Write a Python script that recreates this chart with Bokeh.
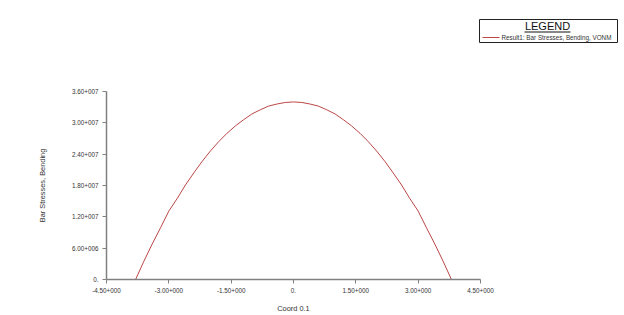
from bokeh.plotting import figure
from bokeh.models import ColumnDataSource, FixedTicker, Range1d
from bokeh.layouts import column
from bokeh.core.properties import value
from bokeh.embed import file_html
from bokeh.resources import INLINE

# Data
coord = [-3.8, -3.6, -3.4, -3.2, -3.0, -2.8, -2.6, -2.4, -2.2, -2.0, -1.8, -1.6, -1.4, -1.2,
         -1.0, -0.8, -0.6, -0.4, -0.2, 0.0, 0.2, 0.4, 0.6, 0.8, 1.0, 1.2, 1.4, 1.6, 1.8,
         2.0, 2.2, 2.4, 2.6, 2.8, 3.0, 3.2, 3.4, 3.6, 3.8]
stress = [0.0, 3.5e6, 6.8e6, 9.9e6, 1.31e7, 1.55e7, 1.81e7, 2.04e7, 2.26e7, 2.46e7, 2.64e7,
          2.80e7, 2.94e7, 3.06e7, 3.17e7, 3.25e7, 3.32e7, 3.36e7, 3.39e7, 3.40e7, 3.39e7,
          3.36e7, 3.32e7, 3.25e7, 3.17e7, 3.06e7, 2.94e7, 2.80e7, 2.64e7, 2.46e7, 2.26e7,
          2.04e7, 1.81e7, 1.55e7, 1.31e7, 9.9e6, 6.8e6, 3.5e6, 0.0]

x_ticks = [-4.5, -3.0, -1.5, 0.0, 1.5, 3.0, 4.5]
x_tick_labels = ["-4.50+000", "-3.00+000", "-1.50+000", "0.", "1.50+000", "3.00+000", "4.50+000"]
y_ticks = [0, 6e6, 1.2e7, 1.8e7, 2.4e7, 3.0e7, 3.6e7]
y_tick_labels = ["0.", "6.00+006", "1.20+007", "1.80+007", "2.40+007", "3.00+007", "3.60+007"]
series_name = "Result1: Bar Stresses, Bending, VONM"
legend_title = "LEGEND"

FONT = "Liberation Sans"
LINE_COLOR = "#bb4646"

# ---------- legend strip (top of page, pixel coordinates) ----------
lg = figure(width=624, height=48, output_backend="svg", toolbar_location=None,
            x_range=Range1d(0, 624), y_range=Range1d(48, 0),
            x_axis_location=None, y_axis_location=None,
            min_border=0, min_border_left=0, min_border_right=0,
            min_border_top=0, min_border_bottom=0)
lg.frame_align = False
lg.grid.visible = False
lg.outline_line_color = None
lg.background_fill_color = "white"
lg.border_fill_color = "white"

lg.quad(left=[479], right=[617], top=[19], bottom=[42],
        fill_color="white", line_color="#222222", line_width=1)
lg.text(x=[547], y=[25.5], text=[legend_title], text_align="center", text_baseline="middle",
        text_font=value(FONT), text_font_size="11px", text_color="#111111")
lg.segment(x0=[524], y0=[31.5], x1=[570], y1=[31.5], line_color="#111111", line_width=1)
lg.segment(x0=[482], y0=[37], x1=[499], y1=[37], line_color=LINE_COLOR, line_width=1)
lg.text(x=[501], y=[37], text=[series_name], text_align="left", text_baseline="middle",
        text_font=value(FONT), text_font_size="6.3px", text_color="#333333")

# ---------- main chart ----------
p = figure(width=624, height=267, output_backend="svg", toolbar_location=None,
           x_range=Range1d(-4.5, 4.5), y_range=Range1d(0, 3.6e7),
           min_border_left=106, min_border_right=144, min_border_top=43, min_border_bottom=34)
p.frame_align = False
p.outline_line_color = None
p.xgrid.visible = False
p.ygrid.visible = False
p.background_fill_color = "white"
p.border_fill_color = "white"

src = ColumnDataSource(dict(x=coord, y=stress))
p.line("x", "y", source=src, line_color=LINE_COLOR, line_width=1)

for ax, ticks, labels in ((p.xaxis[0], x_ticks, x_tick_labels), (p.yaxis[0], y_ticks, y_tick_labels)):
    ax.ticker = FixedTicker(ticks=ticks)
    ax.major_label_overrides = {t: l for t, l in zip(ticks, labels)}
    ax.minor_tick_line_color = None
    ax.major_tick_in = 0
    ax.major_tick_out = 4
    ax.axis_line_color = "#808080"
    ax.axis_line_width = 1.5
    ax.major_tick_line_color = "#808080"
    ax.major_label_text_font = FONT
    ax.major_label_text_font_size = "6.3px"
    ax.major_label_text_color = "#333333"
    ax.major_label_standoff = 4
    ax.axis_label_text_font = FONT
    ax.axis_label_text_font_size = "7.4px"
    ax.axis_label_text_font_style = "normal"
    ax.axis_label_text_color = "#333333"

p.xaxis.axis_label = "Coord 0.1"
p.xaxis.axis_label_standoff = 8
p.yaxis.axis_label = "Bar Stresses, Bending"
p.yaxis.axis_label_standoff = 22
p.yaxis.major_label_orientation = "horizontal"

layout = column(lg, p, spacing=0)
open("out.html", "w").write(file_html(layout, INLINE))
